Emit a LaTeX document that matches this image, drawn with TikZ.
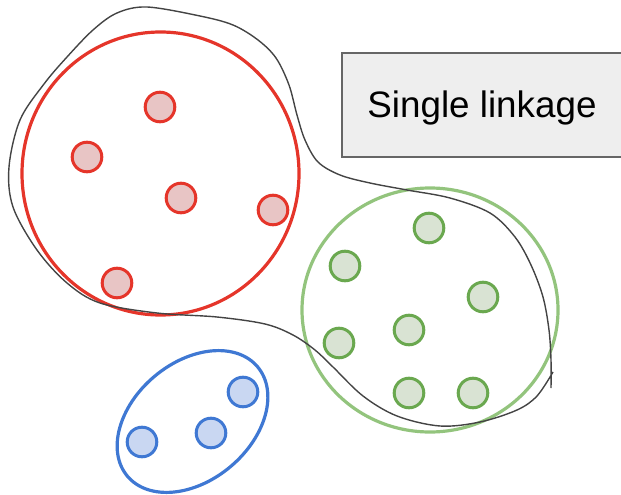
\documentclass[tikz,border=0pt]{standalone}
\usepackage{fontspec}
\setmainfont{Liberation Sans}
\usetikzlibrary{shapes.geometric}
\definecolor{redline}{HTML}{E5352A}
\definecolor{redfill}{HTML}{E8C5C5}
\definecolor{greenline}{HTML}{6AA84F}
\definecolor{greenring}{HTML}{93C47D}
\definecolor{greenfill}{HTML}{D9E3D3}
\definecolor{blueline}{HTML}{3F78D3}
\definecolor{bluefill}{HTML}{C9D7F2}
\definecolor{boxline}{HTML}{666666}
\definecolor{boxfill}{HTML}{EEEEEE}
\definecolor{linkline}{HTML}{444444}
\tikzset{
  dot/.style={circle, line width=3pt, minimum size=29.6pt, inner sep=0pt, outer sep=0pt},
  reddot/.style={dot, draw=redline, fill=redfill},
  greendot/.style={dot, draw=greenline, fill=greenfill},
  bluedot/.style={dot, draw=blueline, fill=bluefill},
  cluster/.style={ellipse, line width=3.2pt, inner sep=0pt, outer sep=0pt},
  linkage/.style={draw=linkline, line width=1.4pt, line join=round},
  labelbox/.style={draw=boxline, fill=boxfill, line width=1.5pt, minimum width=280pt,
    minimum height=104pt, inner sep=0pt, font=\fontsize{36.8}{44}\selectfont}
}
\begin{document}
\begin{tikzpicture}[x=1pt,y=-1pt]
\useasboundingbox (0,0) rectangle (621,495);

% cluster outlines
\node[cluster, draw=redline, minimum width=277pt, minimum height=283pt] (redset) at (160.5,173.5) {};
\node[cluster, draw=greenring, minimum width=256pt, minimum height=244pt] (greenset) at (430,310) {};
\node[cluster, draw=blueline, minimum width=170pt, minimum height=118pt, rotate=40] (blueset) at (192.5,421.5) {};

% single-linkage envelope, drawn freehand
\draw[linkage] plot[smooth, tension=0.55] coordinates {
  (551,388) (551,360) (549,330) (543,297) (531,265) (515,237) (490,213) (450,198)
  (407,190) (370,183) (340,175) (318,162) (305,140) (297,115) (289,85) (276,58)
  (258,40) (233,25) (200,16) (147,7) (117,13) (93,30) (67,57) (44,84) (20,120)
  (9,167) (13,207) (37,250) (67,283) (100,303) (157,313) (217,317) (265,324)
  (293,335) (315,350) (333,367) (363,396) (397,416) (440,426) (480,422) (517,410)
  (537,396) (553,372)};

% red points
\node[reddot] (r1) at (160,107) {};
\node[reddot] (r2) at (87,157) {};
\node[reddot] (r3) at (181,198) {};
\node[reddot] (r4) at (273,210) {};
\node[reddot] (r5) at (117,283) {};

% green points
\node[greendot] (g1) at (429,228) {};
\node[greendot] (g2) at (345,266) {};
\node[greendot] (g3) at (483,297) {};
\node[greendot] (g4) at (409,330) {};
\node[greendot] (g5) at (339,343) {};
\node[greendot] (g6) at (409,393) {};
\node[greendot] (g7) at (473,393) {};

% blue points
\node[bluedot] (b1) at (243,392) {};
\node[bluedot] (b2) at (211,433) {};
\node[bluedot] (b3) at (142,442) {};

% caption box; text baseline sits 12pt below the box centre
\node[labelbox] (caption) at (482,105) {\raisebox{-12pt}[0pt][0pt]{Single linkage}};
\end{tikzpicture}
\end{document}
